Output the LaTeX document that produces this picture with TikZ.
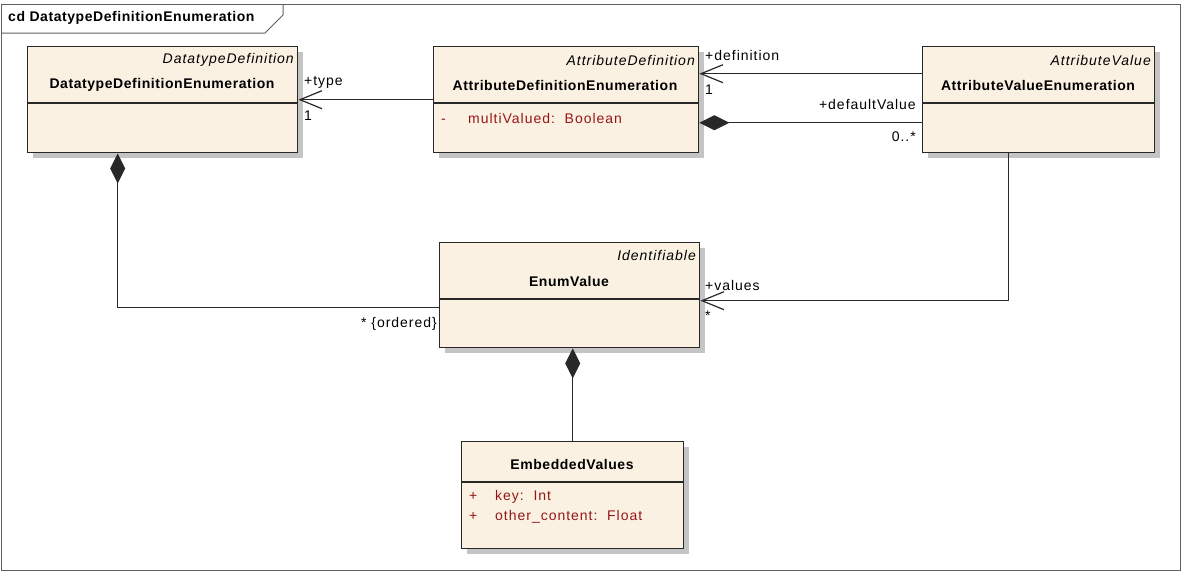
\documentclass[tikz,border=0pt]{standalone}
\usepackage{fontspec}
\setmainfont{Liberation Sans}[LetterSpace=7,BoldFeatures={LetterSpace=4}]
\usetikzlibrary{arrows.meta}
\usetikzlibrary{calc}
\usetikzlibrary{shadows}

\definecolor{classfill}{RGB}{251,241,227}
\definecolor{attrred}{RGB}{150,22,22}
\definecolor{shadowgray}{RGB}{196,196,196}
\definecolor{linegray}{RGB}{40,40,40}
\definecolor{framegray}{RGB}{95,95,95}

\tikzset{
  txt/.style={inner sep=0pt,font=\fontsize{14}{20}\selectfont},
  classbox/.style={draw=linegray,fill=classfill,line width=1.4pt,anchor=north west,
    inner sep=0pt,general shadow={shadow xshift=5pt,shadow yshift=-5pt,fill=shadowgray}},
  classline/.style={draw=linegray,line width=1.4pt},
  stereo/.style={txt,anchor=east,font=\fontsize{14}{20}\selectfont\itshape},
  cname/.style={txt,font=\fontsize{14}{20}\selectfont\bfseries},
  attr/.style={txt,anchor=west,text=attrred},
  assoc/.style={draw=linegray,line width=1.2pt,-{Straight Barb[length=22pt,width=18pt]}},
  compo/.style={draw=linegray,line width=1.2pt,{Diamond[length=30pt,width=15pt]}-}
}

\begin{document}
\begin{tikzpicture}[x=1pt,y=-1pt]
  \useasboundingbox (0,0) rectangle (1181,571);
  % frame
  \draw[framegray,line width=1pt] (1,4) rectangle (1180,570);
  \draw[framegray,line width=1pt] (1,33) -- (265,33) -- (283,15) -- (283,4);
  \node[txt,anchor=west,font=\fontsize{14}{20}\selectfont\bfseries] (title) at (8,18) {cd DatatypeDefinitionEnumeration};

  % classes
  \node[classbox,minimum width=270pt,minimum height=106pt] (dde) at (27,46) {};
  \draw[classline] (dde.west |- 0,103) -- (dde.east |- 0,103);
  \node[stereo] (ddeS) at (294,60) {DatatypeDefinition};
  \node[cname] (ddeN) at (162,85) {DatatypeDefinitionEnumeration};

  \node[classbox,minimum width=265pt,minimum height=106pt] (ade) at (433,46) {};
  \draw[classline] (ade.west |- 0,103) -- (ade.east |- 0,103);
  \node[stereo] (adeS) at (695,60) {AttributeDefinition};
  \node[cname] (adeN) at (565,85) {AttributeDefinitionEnumeration};
  \node[attr] (adeA) at (441,118) {\makebox[27pt][l]{-}multiValued:\ \ Boolean};

  \node[classbox,minimum width=232pt,minimum height=106pt] (avl) at (922,46) {};
  \draw[classline] (avl.west |- 0,103) -- (avl.east |- 0,103);
  \node[stereo] (avlS) at (1151,60) {AttributeValue};
  \node[cname] (avlN) at (1038,85) {AttributeValueEnumeration};

  \node[classbox,minimum width=260pt,minimum height=105pt] (env) at (439,242) {};
  \draw[classline] (env.west |- 0,299) -- (env.east |- 0,299);
  \node[stereo] (envS) at (696,255) {Identifiable};
  \node[cname] (envN) at (569,281) {EnumValue};

  \node[classbox,minimum width=222pt,minimum height=107pt] (emb) at (461,441) {};
  \draw[classline] (emb.west |- 0,482) -- (emb.east |- 0,482);
  \node[cname] (embN) at (572,464) {EmbeddedValues};
  \node[attr] (embA1) at (469,497) {\makebox[26pt][l]{+}key:\ \ Int};
  \node[attr] (embA2) at (469,517) {\makebox[26pt][l]{+}other\_content:\ \ Float};

  % connectors
  \draw[assoc] (ade.west) -- (dde.east);
  \node[txt,anchor=west] (typeR) at (304,82) {+type};
  \node[txt,anchor=west] (typeM) at (304,116) {1};

  \draw[assoc] ([yshift=26pt]avl.west) -- ([yshift=26pt]ade.east);
  \node[txt,anchor=west] (defR) at (705,55) {+definition};
  \node[txt,anchor=west] (defM) at (705,90) {1};

  \draw[compo] ([yshift=-23pt]ade.east) -- ([yshift=-23pt]avl.west);
  \node[txt,anchor=east] (dvR) at (916,104) {+defaultValue};
  \node[txt,anchor=east] (dvM) at (916,137) {0..*};

  \draw[compo] ([xshift=-45pt]dde.south) |- ([yshift=-12.5pt]env.west);
  \node[txt,anchor=east] (ordM) at (437,324) {* \{ordered\}};

  \draw[assoc] ([xshift=-30pt]avl.south) |- ([yshift=-5.5pt]env.east);
  \node[txt,anchor=west] (valR) at (705,285) {+values};
  \node[txt,anchor=west] (valM) at (705,316) {*};

  \draw[compo] (env.south -| emb.north) -- (emb.north);
\end{tikzpicture}
\end{document}
